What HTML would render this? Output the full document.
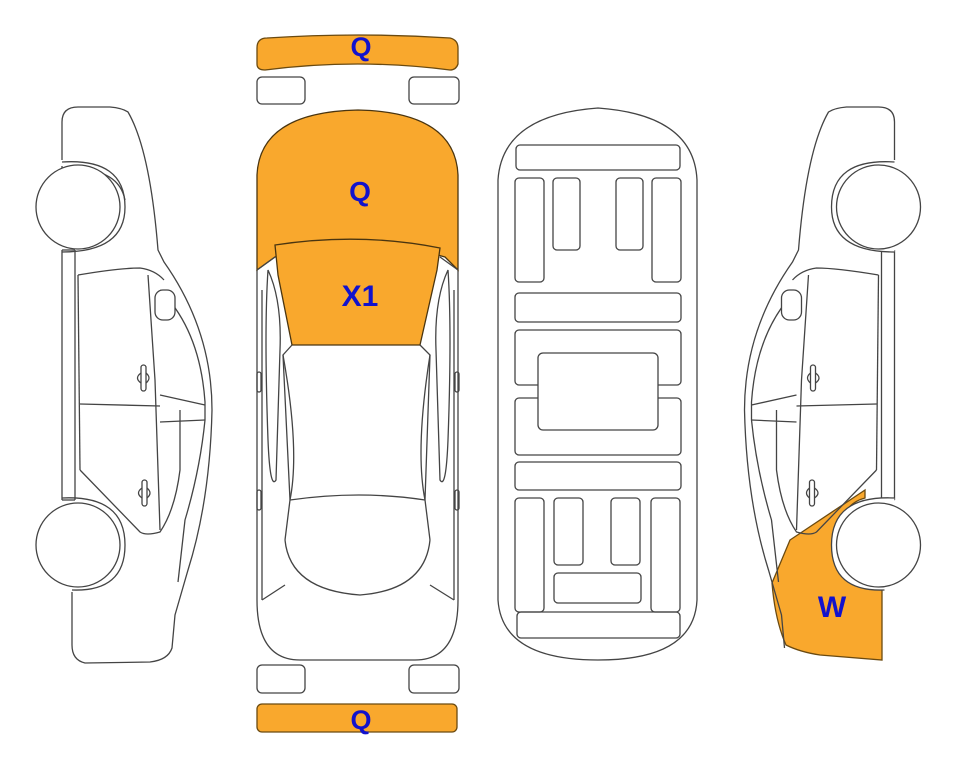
<!DOCTYPE html>
<html><head><meta charset="utf-8"><style>
html,body{margin:0;padding:0;background:#fff}
svg{display:block}
text{font-family:"Liberation Sans",Arial,sans-serif;font-weight:bold;fill:#1212cc;text-anchor:middle}
</style></head><body>
<svg width="963" height="768" viewBox="0 0 963 768" xmlns="http://www.w3.org/2000/svg">
<g fill="none" stroke="#444" stroke-width="1.3">

<!-- ===== LEFT CAR ===== -->
<g id="side">
<path d="M62,160 L62,122 Q62,107 78,107 L110,107 Q122,108 128,112 Q150,150 158,250 L164,262 Q212,330 212,410 Q210,500 188,570 L175,615 L172,648 Q168,660 150,662 L85,663 Q72,660 72,645 L72,592" fill="#fff"/>
<line x1="62" y1="166" x2="62" y2="178"/>
<path d="M62,170 Q118,165 125,200"/>
<line x1="62" y1="250" x2="62" y2="500"/>
<line x1="75" y1="250" x2="75" y2="500"/>
<line x1="62" y1="250" x2="75" y2="250"/>
<line x1="62" y1="500" x2="75" y2="500"/>
<!-- fenders -->
<path d="M62,162 Q125,158 125,207 Q125,252 62,252"/>
<path d="M62,498 Q125,495 125,545 Q125,592 72,590"/>
<circle cx="78" cy="207" r="42" fill="#fff"/>
<circle cx="78" cy="545" r="42" fill="#fff"/>
<!-- door frame -->
<path d="M78,275 Q120,268 140,268 Q155,270 164,280"/>
<line x1="78" y1="275" x2="80" y2="470"/>
<path d="M80,470 L140,532 Q146,536 160,532 Q175,510 180,470 L180,410"/>
<line x1="80" y1="404" x2="160" y2="406"/>
<path d="M148,275 L155,380 L160,530"/>
<path d="M160,290 Q200,330 205,402 L205,420 Q200,470 185,520 L178,582"/>
<path d="M160,395 L205,405 M160,422 L205,420"/>
<rect x="155" y="290" width="20" height="30" rx="8" fill="#fff"/>
<!-- handles -->
<rect x="141" y="365" width="5" height="26" rx="2.5" fill="#fff"/>
<path d="M141,373 Q134,378 141,383 M146,373 Q152,378 146,383"/>
<rect x="142" y="480" width="5" height="26" rx="2.5" fill="#fff"/>
<path d="M142,488 Q135,493 142,498 M147,488 Q153,493 147,498"/>
</g>

<!-- ===== RIGHT CAR (mirror) ===== -->
<path d="M865,490 L790,540 L772,583 Q775,620 786,645 Q800,652 820,655 L882,660 L882,588 Q840,580 838,545 Q838,505 865,498 Z" fill="#F9A82D" stroke="#6b4a10"/>
<g transform="translate(956.5,0) scale(-1,1)">
<path d="M62,160 L62,122 Q62,107 78,107 L110,107 Q122,108 128,112 Q150,150 158,250 L164,262 Q212,330 212,410 Q210,500 188,570 L175,615 L172,648"/>
<line x1="62" y1="250" x2="62" y2="500"/>
<line x1="75" y1="250" x2="75" y2="500"/>
<line x1="62" y1="250" x2="75" y2="250"/>
<line x1="62" y1="500" x2="75" y2="500"/>
<path d="M62,162 Q125,158 125,207 Q125,252 62,252" fill="#fff"/>
<path d="M62,498 Q125,495 125,545 Q125,592 72,590" fill="#fff"/>
<circle cx="78" cy="207" r="42" fill="#fff"/>
<circle cx="78" cy="545" r="42" fill="#fff"/>
<path d="M78,275 Q120,268 140,268 Q155,270 164,280"/>
<line x1="78" y1="275" x2="80" y2="470"/>
<path d="M80,470 L140,532 Q146,536 160,532 Q175,510 180,470 L180,410"/>
<line x1="80" y1="404" x2="160" y2="406"/>
<path d="M148,275 L155,380 L160,530"/>
<path d="M160,290 Q200,330 205,402 L205,420 Q200,470 185,520 L178,582"/>
<path d="M160,395 L205,405 M160,422 L205,420"/>
<rect x="155" y="290" width="20" height="30" rx="8" fill="#fff"/>
<rect x="141" y="365" width="5" height="26" rx="2.5" fill="#fff"/>
<path d="M141,373 Q134,378 141,383 M146,373 Q152,378 146,383"/>
<rect x="142" y="480" width="5" height="26" rx="2.5" fill="#fff"/>
<path d="M142,488 Q135,493 142,498 M147,488 Q153,493 147,498"/>
</g>

<!-- ===== TOP VIEW CAR ===== -->
<path d="M257,48 Q257,38 267,38 Q358,32 450,38 Q458,40 458,48 L458,64 Q456,70 450,70 Q358,58 265,70 Q257,70 257,64 Z" fill="#F9A82D" stroke="#6b4a10"/>
<rect x="257" y="77" width="48" height="27" rx="5"/>
<rect x="409" y="77" width="50" height="27" rx="5"/>
<rect x="257" y="665" width="48" height="28" rx="5"/>
<rect x="409" y="665" width="50" height="28" rx="5"/>
<rect x="257" y="704" width="200" height="28" rx="5" fill="#F9A82D" stroke="#6b4a10"/>
<!-- body -->
<path d="M257,270 L257,600 Q257,660 300,660 L415,660 Q458,660 458,600 L458,270"/>
<path d="M257,270 L257,175 Q260,112 358,110 Q455,112 458,175 L458,270 L445,257 Q360,233 275,257 Z" fill="#F9A82D" stroke="#4a3510"/>
<path d="M275,245 Q360,232 440,248 L437,270 L420,345 L292,345 L278,275 Z" fill="#F9A82D" stroke="#4a3510"/>
<path d="M257,270 L275,257 M458,270 L440,257"/>
<path d="M292,345 L283,355 L290,500 L285,540 M420,345 L430,355 L425,500 L430,540"/>
<path d="M283,355 Q300,450 290,500 M430,355 Q415,450 425,500"/>
<path d="M290,500 Q360,490 425,500"/>
<path d="M285,540 Q290,590 360,595 Q425,590 430,540"/>
<path d="M268,270 Q282,300 280,350 L276,480 Q270,490 268,440 Q264,330 268,270 Z"/>
<path d="M448,270 Q434,300 436,350 L440,480 Q446,490 448,440 Q452,330 448,270 Z"/>
<path d="M262,290 L262,600 M454,290 L454,600"/>
<path d="M262,600 L285,585 M454,600 L430,585"/>
<rect x="257" y="372" width="4" height="20" rx="2"/>
<rect x="455" y="372" width="4" height="20" rx="2"/>
<rect x="257" y="490" width="4" height="20" rx="2"/>
<rect x="455" y="490" width="4" height="20" rx="2"/>

<!-- ===== UNDERSIDE ===== -->
<path d="M498,180 Q502,115 598,108 Q694,115 697,180 L697,600 Q694,660 598,660 Q502,660 498,600 Z"/>
<rect x="516" y="145" width="164" height="25" rx="4"/>
<rect x="515" y="178" width="29" height="104" rx="4"/>
<rect x="553" y="178" width="27" height="72" rx="4"/>
<rect x="616" y="178" width="27" height="72" rx="4"/>
<rect x="652" y="178" width="29" height="104" rx="4"/>
<rect x="515" y="293" width="166" height="29" rx="4"/>
<rect x="515" y="330" width="166" height="55" rx="4"/>
<rect x="515" y="398" width="166" height="57" rx="4"/>
<rect x="538" y="353" width="120" height="77" rx="5" fill="#fff"/>
<rect x="515" y="462" width="166" height="28" rx="4"/>
<rect x="515" y="498" width="29" height="114" rx="4"/>
<rect x="554" y="498" width="29" height="67" rx="4"/>
<rect x="611" y="498" width="29" height="67" rx="4"/>
<rect x="651" y="498" width="29" height="114" rx="4"/>
<rect x="554" y="573" width="87" height="30" rx="4"/>
<rect x="517" y="612" width="163" height="26" rx="4"/>
</g>

<text x="361" y="56" font-size="27">Q</text>
<text x="360" y="201" font-size="28">Q</text>
<text x="360" y="306" font-size="30">X1</text>
<text x="361" y="729" font-size="27">Q</text>
<text x="832" y="617" font-size="30">W</text>
</svg>
</body></html>
